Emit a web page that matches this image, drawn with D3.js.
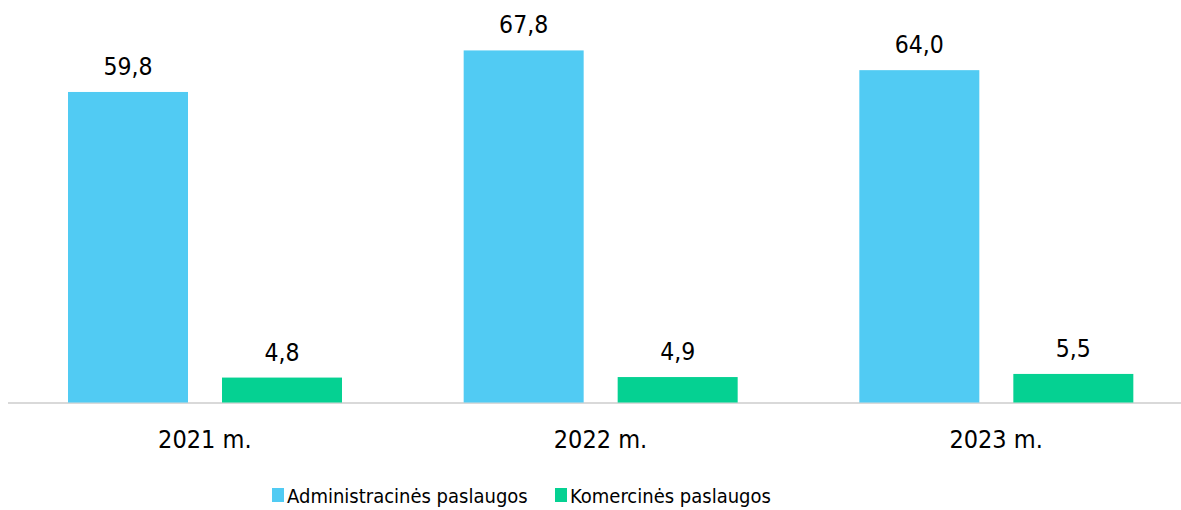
<!DOCTYPE html>
<html>
<head>
<meta charset="utf-8">
<script src="https://cdn.jsdelivr.net/npm/d3@7/dist/d3.min.js"></script>
<style>
  body { margin: 0; background: #fff; }
  text { font-family: "DejaVu Sans Condensed", "DejaVu Sans", sans-serif; font-stretch: condensed; fill: #000; }
</style>
</head>
<body>
<svg id="chart"></svg>
<script>
// data
var years = ["2021 m.", "2022 m.", "2023 m."];
var seriesNames = ["Administracinės paslaugos", "Komercinės paslaugos"];
var admin = [59.8, 67.8, 64.0];
var comm = [4.8, 4.9, 5.5];
var colors = ["#51CBF3", "#05D192"];

var width = 1181, height = 510;
var svg = d3.select("#chart").attr("width", width).attr("height", height);

var x = d3.scaleBand().domain(years).range([7, 1194]).paddingInner(0).paddingOuter(0);
var x1 = d3.scaleBand().domain([0, 1]).range([61, 335]).paddingInner(0.2208);
var y = d3.scaleLinear().domain([0, 70]).range([402.5, 39]);

var fmt = function(v) { return d3.format(".1f")(v).replace(".", ","); };

var rows = years.map(function(yr, i) { return { year: yr, vals: [admin[i], comm[i]] }; });

// axis line
svg.append("line")
  .attr("x1", 8).attr("x2", width)
  .attr("y1", y(0) + 0.5).attr("y2", y(0) + 0.5)
  .attr("stroke", "#d9d9d9").attr("stroke-width", 2);

var g = svg.selectAll(".grp").data(rows).enter().append("g")
  .attr("transform", function(d) { return "translate(" + x(d.year) + ",0)"; });

var bar = g.selectAll(".bar").data(function(d) { return d.vals.map(function(v, k) { return { k: k, v: v }; }); })
  .enter();

bar.append("rect")
  .attr("x", function(d) { return x1(d.k); })
  .attr("width", x1.bandwidth())
  .attr("y", function(d) { return y(d.v); })
  .attr("height", function(d) { return y(0) - y(d.v); })
  .attr("fill", function(d) { return colors[d.k]; });

bar.append("text")
  .attr("x", function(d) { return x1(d.k) + x1.bandwidth() / 2; })
  .attr("y", function(d) { return y(d.v) - 17; })
  .attr("text-anchor", "middle")
  .attr("font-size", 24.5)
  .text(function(d) { return fmt(d.v); });

// category labels
svg.selectAll(".cat").data(years).enter().append("text")
  .attr("x", function(d) { return x(d) + x.bandwidth() / 2; })
  .attr("y", 448)
  .attr("text-anchor", "middle")
  .attr("font-size", 25)
  .text(function(d) { return d; });

// legend
var legX = [272, 555];
var leg = svg.selectAll(".leg").data(seriesNames).enter().append("g")
  .attr("transform", function(d, i) { return "translate(" + legX[i] + ",488)"; });
leg.append("rect").attr("width", 12).attr("height", 14)
  .attr("fill", function(d, i) { return colors[i]; });
leg.append("text").attr("x", 15).attr("y", 14.5)
  .attr("font-size", 20)
  .text(function(d) { return d; });
</script>
</body>
</html>
